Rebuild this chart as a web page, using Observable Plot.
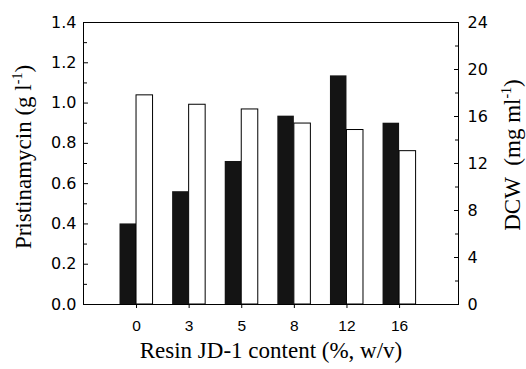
<!DOCTYPE html>
<html><head><meta charset="utf-8">
<script src="https://cdn.jsdelivr.net/npm/d3@7"></script>
<script src="https://cdn.jsdelivr.net/npm/@observablehq/plot@0.6"></script>
<style>body{margin:0;background:#fff} #chart svg{display:block}</style>
</head><body><div id="chart"></div>
<script>
const categories = ["0", "3", "5", "8", "12", "16"];
const pristinamycin = [0.40, 0.56, 0.71, 0.935, 1.135, 0.90];   // g/l, left axis (black)
const dcw = [17.8, 17.0, 16.6, 15.4, 14.85, 13.05];              // mg/ml, right axis (white)
const leftTicks = [0, 0.2, 0.4, 0.6, 0.8, 1.0, 1.2, 1.4];
const leftMinor = [0.1, 0.3, 0.5, 0.7, 0.9, 1.1, 1.3];
const rightTicks = [0, 4, 8, 12, 16, 20, 24];
const rightMinor = [2, 6, 10, 14, 18, 22];
const leftTitle = ["Pristinamycin (g l", "-1", ")"];
const rightTitle = ["DCW\u00A0 (mg ml", "-1", ")"];
const xTitle = "Resin JD-1 content (%, w/v)";

const leftMax = 1.4, rightMax = 24;
const k = leftMax / rightMax;
const w = 0.314;
const rows = categories.map((c, i) => ({i, c, p: pristinamycin[i], d: dcw[i] * k}));

const sans = "'DejaVu Sans', sans-serif";
const sansX = "'Liberation Sans', Arial, sans-serif";
const serif = "'Liberation Serif', 'Times New Roman', serif";

const chart = Plot.plot({
  width: 526, height: 369,
  marginLeft: 83, marginRight: 68, marginTop: 22, marginBottom: 65,
  style: {background: "white", color: "black"},
  x: {type: "linear", domain: [-1.008, 6.12], axis: null},
  y: {domain: [0, leftMax + 1e-9], axis: null},
  marks: [
    Plot.rectY(rows, {x1: d => d.i - w, x2: d => d.i, y: "p", fill: "#141414"}),
    Plot.rectY(rows, {x1: d => d.i, x2: d => d.i + w, y: "d", fill: "white", stroke: "black", strokeWidth: 1}),
    Plot.frame({stroke: "black", strokeWidth: 1}),
    Plot.axisX({ticks: rows.map(r => r.i), tickFormat: i => categories[i], tickSize: 4, tickPadding: 11, fontSize: 15.5, fontFamily: sansX}),
    Plot.axisY({ticks: leftTicks, tickFormat: d3.format(".1f"), tickSize: -5, tickPadding: 12, fontSize: 16, fontFamily: sans}),
    Plot.axisY({ticks: leftMinor, tickFormat: () => "", tickSize: -4}),
    Plot.axisY({anchor: "right", ticks: rightTicks.map(v => v * k), tickFormat: v => String(Math.round(v / k)), tickSize: -5, tickPadding: 14, fontSize: 16, fontFamily: sans}),
    Plot.axisY({anchor: "right", ticks: rightMinor.map(v => v * k), tickFormat: () => "", tickSize: -4}),
    Plot.text([xTitle], {frameAnchor: "bottom", dy: 53, fontSize: 23, fontFamily: serif})
  ]
});
document.getElementById("chart").appendChild(chart);

// rotated axis titles with superscripts
const svg = d3.select(chart);
function addTitle(parts, x, y) {
  const t = svg.append("text")
    .attr("transform", `translate(${x},${y}) rotate(-90)`)
    .attr("text-anchor", "middle")
    .attr("font-family", serif)
    .attr("font-size", 23)
    .attr("fill", "black");
  t.append("tspan").text(parts[0]);
  t.append("tspan").attr("font-size", 14).attr("dy", -9).text(parts[1]);
  t.append("tspan").attr("dy", 9).text(parts[2]);
}
addTitle(leftTitle, 31, 157);
addTitle(rightTitle, 520, 155);
</script>
</body></html>
